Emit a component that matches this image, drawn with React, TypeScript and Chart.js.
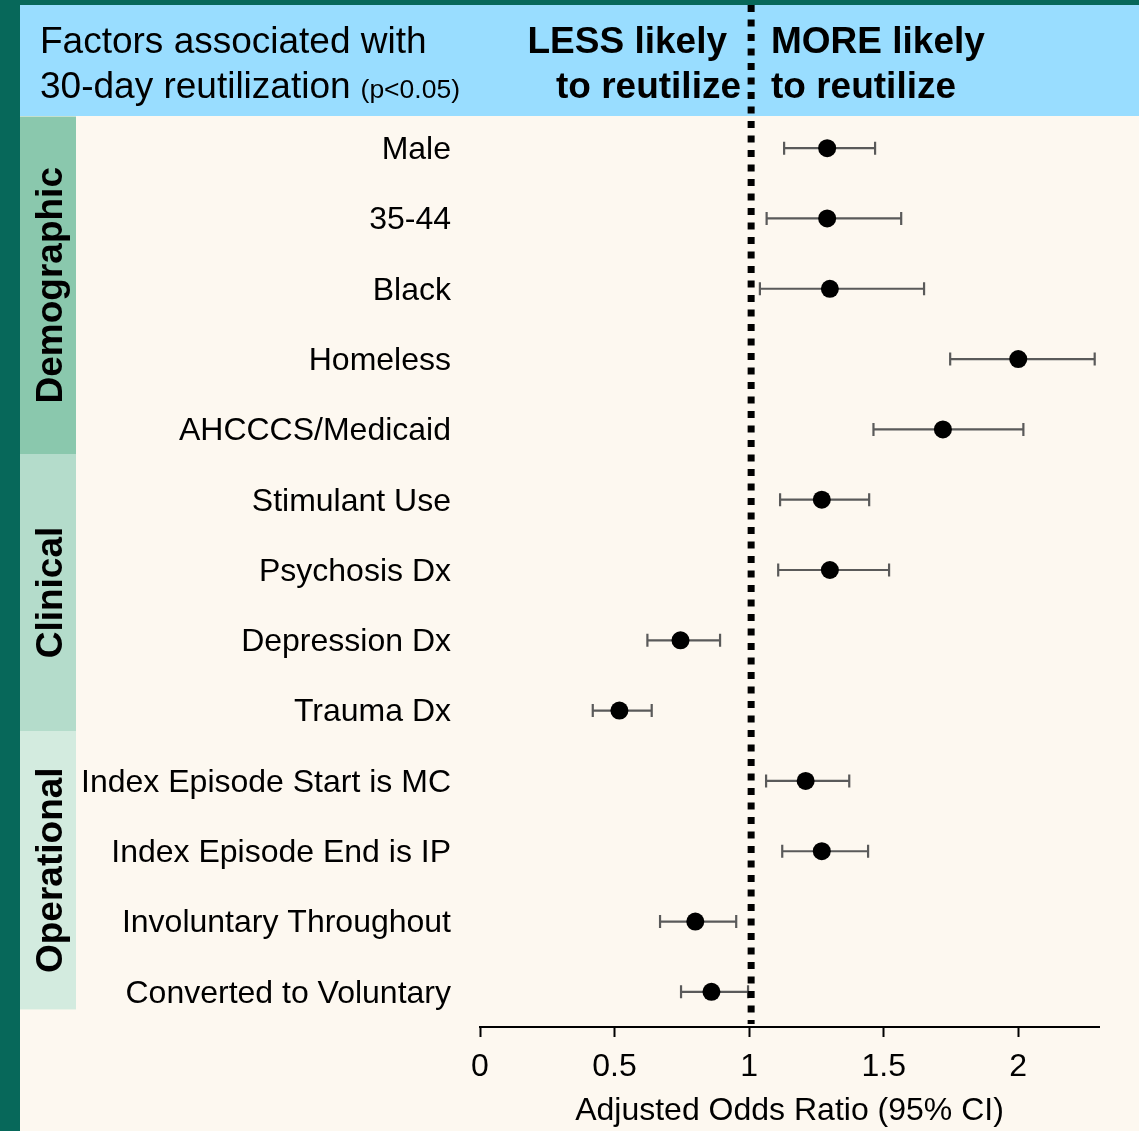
import React, { useEffect, useRef } from "react";
import { Chart, registerables } from "chart.js";

Chart.register(...registerables);

const factors = [
  "Male",
  "35-44",
  "Black",
  "Homeless",
  "AHCCCS/Medicaid",
  "Stimulant Use",
  "Psychosis Dx",
  "Depression Dx",
  "Trauma Dx",
  "Index Episode Start is MC",
  "Index Episode End is IP",
  "Involuntary Throughout",
  "Converted to Voluntary",
];
const oddsRatio = [1.29, 1.29, 1.3, 2.0, 1.72, 1.27, 1.3, 0.745, 0.518, 1.21, 1.27, 0.8, 0.86];
const ciLow = [1.13, 1.065, 1.04, 1.747, 1.462, 1.115, 1.108, 0.622, 0.419, 1.063, 1.123, 0.669, 0.747];
const ciHigh = [1.468, 1.565, 1.65, 2.284, 2.019, 1.446, 1.52, 0.892, 0.638, 1.372, 1.442, 0.952, 0.996];
const xTicks = [0, 0.5, 1, 1.5, 2];
const groups = ["Demographic", "Clinical", "Operational"];
// band edges in row units (top of first group, then boundaries)
const groupEdges = [-0.45, 4.35, 8.29, 12.25];
const groupColors = ["#8AC8AD", "#B4DCCB", "#D3EBDF"];

const FONT = "'Liberation Sans', Arial, sans-serif";

export default function App() {
  const ref = useRef<HTMLCanvasElement | null>(null);

  useEffect(() => {
    document.body.style.margin = "0";
    const canvas = ref.current;
    if (!canvas) return;

    const decor = {
      id: "decor",
      beforeDraw(chart: any) {
        const ctx = chart.ctx;
        const W = chart.width;
        const H = chart.height;
        const y = chart.scales.y;
        ctx.save();
        ctx.fillStyle = "#FDF8F0";
        ctx.fillRect(0, 0, W, H);
        // header band
        ctx.fillStyle = "#99DDFF";
        ctx.fillRect(0, 0, W, 116);
        // group bands
        for (let g = 0; g < groups.length; g++) {
          const startPx = y.getPixelForValue(groupEdges[g]);
          const endPx = y.getPixelForValue(groupEdges[g + 1]);
          ctx.fillStyle = groupColors[g];
          ctx.fillRect(20, startPx, 56, endPx - startPx);
          ctx.save();
          ctx.translate(62, (startPx + endPx) / 2);
          ctx.rotate(-Math.PI / 2);
          ctx.fillStyle = "#000";
          ctx.font = `bold 37px ${FONT}`;
          ctx.textAlign = "center";
          ctx.textBaseline = "alphabetic";
          ctx.fillText(groups[g], 0, 0);
          ctx.restore();
        }
        // dark green frame
        ctx.fillStyle = "#07685A";
        ctx.fillRect(0, 0, W, 5);
        ctx.fillRect(0, 0, 20, H);

        // header text
        ctx.fillStyle = "#000";
        ctx.textBaseline = "alphabetic";
        ctx.textAlign = "left";
        ctx.font = `37px ${FONT}`;
        ctx.fillText("Factors associated with", 40, 53);
        const l2 = "30-day reutilization";
        ctx.fillText(l2, 40, 98);
        const w2 = ctx.measureText(l2).width;
        ctx.font = `26.5px ${FONT}`;
        ctx.fillText("(p<0.05)", 40 + w2 + 10, 98);

        ctx.font = `bold 37px ${FONT}`;
        ctx.textAlign = "right";
        ctx.fillText("LESS likely", 727, 53);
        ctx.fillText("to reutilize", 741, 98);
        ctx.textAlign = "left";
        ctx.fillText("MORE likely", 771, 53);
        ctx.fillText("to reutilize", 771, 98);

        // axis title
        const x = chart.scales.x;
        ctx.font = `32px ${FONT}`;
        ctx.textAlign = "center";
        ctx.textBaseline = "middle";
        ctx.fillText("Adjusted Odds Ratio (95% CI)", (x.left + x.right) / 2, 1111);
        ctx.restore();
      },
      beforeDatasetsDraw(chart: any) {
        const ctx = chart.ctx;
        const x = chart.scales.x;
        const y = chart.scales.y;
        ctx.save();
        ctx.strokeStyle = "#5A5A5A";
        ctx.lineWidth = 2.2;
        for (let i = 0; i < factors.length; i++) {
          const py = y.getPixelForValue(i);
          const x1 = x.getPixelForValue(ciLow[i]);
          const x2 = x.getPixelForValue(ciHigh[i]);
          ctx.beginPath();
          ctx.moveTo(x1, py);
          ctx.lineTo(x2, py);
          ctx.moveTo(x1, py - 6.5);
          ctx.lineTo(x1, py + 6.5);
          ctx.moveTo(x2, py - 6.5);
          ctx.lineTo(x2, py + 6.5);
          ctx.stroke();
        }
        ctx.restore();
      },
      afterDatasetsDraw(chart: any) {
        const ctx = chart.ctx;
        const x = chart.scales.x;
        ctx.save();
        const px = x.getPixelForValue(1) + 2;
        ctx.strokeStyle = "#000";
        ctx.lineWidth = 7;
        ctx.setLineDash([7, 7.5]);
        ctx.beginPath();
        ctx.moveTo(px, 5);
        ctx.lineTo(px, x.top - 3);
        ctx.stroke();
        ctx.restore();
      },
    };

    const chart = new Chart(canvas, {
      type: "scatter",
      data: {
        datasets: [
          {
            data: oddsRatio.map((v, i) => ({ x: v, y: i })),
            backgroundColor: "#000",
            borderColor: "#000",
            pointRadius: 9,
            pointHoverRadius: 9,
            borderWidth: 0,
          },
        ],
      },
      options: {
        animation: false,
        responsive: false,
        maintainAspectRatio: false,
        events: [],
        layout: { padding: { top: 113, left: 0, right: 40, bottom: 0 } },
        plugins: {
          legend: { display: false },
          tooltip: { enabled: false },
          title: { display: false },
        },
        scales: {
          x: {
            type: "linear",
            min: 0,
            max: 2.3,
            afterBuildTicks: (scale: any) => {
              scale.ticks = xTicks.map((v) => ({ value: v }));
            },
            afterFit: (scale: any) => {
              scale.height = 104;
            },
            grid: {
              display: true,
              drawOnChartArea: false,
              drawTicks: true,
              tickLength: 10,
              tickColor: "#000",
              tickWidth: 2,
            },
            border: { display: true, color: "#000", width: 2 },
            ticks: {
              color: "#000",
              font: { family: FONT, size: 32 },
              padding: 11,
              maxRotation: 0,
              autoSkip: false,
              callback: (v: any) => String(v),
            },
          },
          y: {
            type: "linear",
            reverse: true,
            min: -0.5,
            max: 12.5,
            afterBuildTicks: (scale: any) => {
              scale.ticks = factors.map((_, i) => ({ value: i }));
            },
            afterFit: (scale: any) => {
              scale.width = 480;
            },
            grid: { display: false, drawTicks: false },
            border: { display: false },
            ticks: {
              color: "#000",
              font: { family: FONT, size: 32 },
              padding: 29,
              labelOffset: 2,
              autoSkip: false,
              callback: (v: any) => factors[v] ?? "",
            },
          },
        },
      },
      plugins: [decor],
    });

    return () => chart.destroy();
  }, []);

  return (
    <div style={{ width: 1139, height: 1131 }}>
      <canvas ref={ref} width={1139} height={1131} style={{ display: "block", width: 1139, height: 1131 }} />
    </div>
  );
}
